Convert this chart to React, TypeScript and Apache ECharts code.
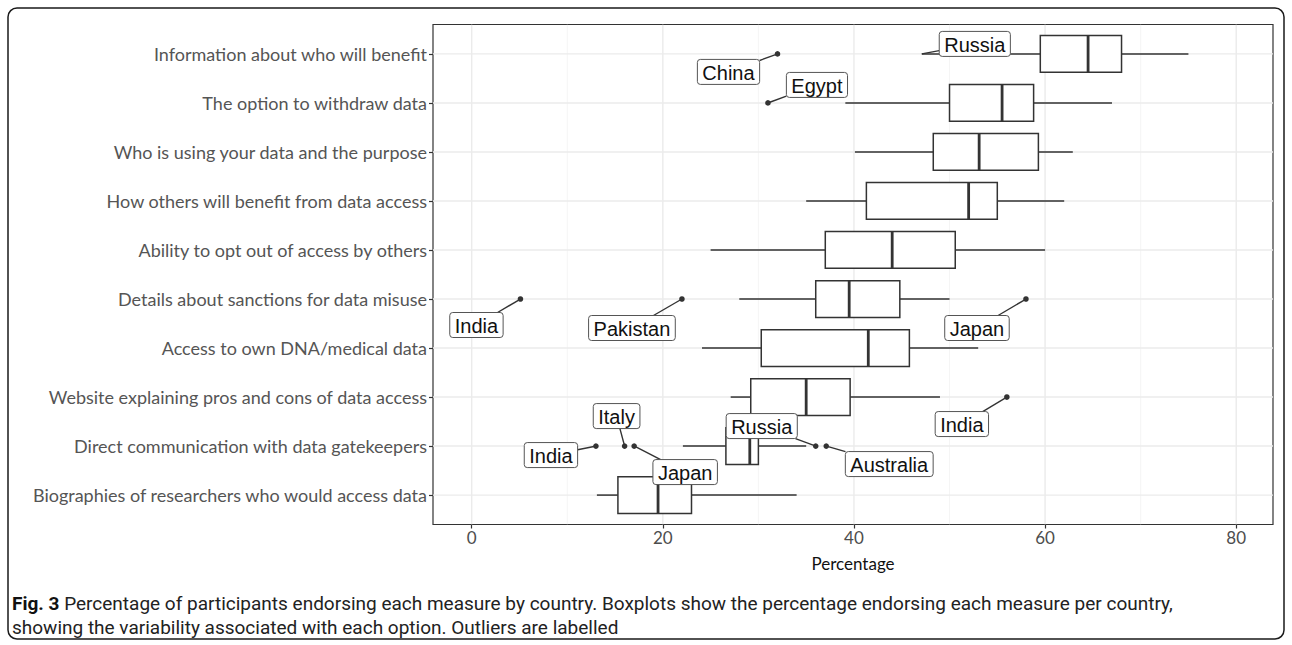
import React, { useEffect, useRef } from "react";
import * as echarts from "echarts";

const categories = [
  "Information about who will benefit",
  "The option to withdraw data",
  "Who is using your data and the purpose",
  "How others will benefit from data access",
  "Ability to opt out of access by others",
  "Details about sanctions for data misuse",
  "Access to own DNA/medical data",
  "Website explaining pros and cons of data access",
  "Direct communication with data gatekeepers",
  "Biographies of researchers who would access data",
];
const whiskerLow = [47.1, 39.1, 40.1, 35.0, 25.0, 28.0, 24.1, 27.1, 22.1, 13.1];
const q1 = [59.5, 50.0, 48.3, 41.3, 37.0, 36.0, 30.3, 29.2, 26.6, 15.3];
const median = [64.5, 55.5, 53.1, 52.0, 44.0, 39.5, 41.5, 35.0, 29.1, 19.5];
const q3 = [68.0, 58.8, 59.3, 55.0, 50.6, 44.8, 45.8, 39.6, 30.0, 23.0];
const whiskerHigh = [75.0, 67.0, 62.9, 62.0, 60.0, 50.0, 53.0, 49.0, 35.0, 34.0];

const outlierCountries = ["Russia", "China", "Egypt", "India", "Pakistan", "Japan", "India", "India", "Italy", "Japan", "Russia", "Australia"];
const outlierRows = [0, 0, 1, 5, 5, 5, 7, 8, 8, 8, 8, 8];
const outlierValues = [47.1, 32.0, 31.0, 5.1, 22.0, 58.0, 56.0, 13.0, 16.0, 17.0, 36.0, 37.1];
const outlierHasDot = [false, true, true, true, true, true, true, true, true, true, true, true];

// label offsets (pixels) from each labelled point, as placed by the repel layout
const labelDx = [53, -49, 49, -44, -50, -49, -45, -45, -8, 51, -54, 63];
const labelDy = [-10, 18, -18, 26, 29, 29, 27, 9, -30, 26, -20, 18];

const xMajor = [0, 20, 40, 60, 80];
const xMinor = [10, 30, 50, 70];

const caption1 = "{b|Fig. 3} Percentage of participants endorsing each measure by country. Boxplots show the percentage endorsing each measure per country,";
const caption2 = "showing the variability associated with each option. Outliers are labelled";

const LABEL_FONT = '20px "Liberation Sans", Arial, sans-serif';

export default function App() {
  const ref = useRef<HTMLDivElement>(null);
  useEffect(() => {
    if (!ref.current) return;
    const chart = echarts.init(ref.current, undefined, { renderer: "svg" });
    const canvas = document.createElement("canvas");
    const ctx = canvas.getContext("2d")!;
    ctx.font = LABEL_FONT;

    const gridData: number[][] = [];
    xMajor.forEach((v) => gridData.push([0, v]));
    xMinor.forEach((v) => gridData.push([1, v]));
    categories.forEach((_, i) => gridData.push([2, i]));

    const boxData = categories.map((_, i) => [i, whiskerLow[i], q1[i], median[i], q3[i], whiskerHigh[i]]);
    const outData = outlierValues.map((v, i) => [v, outlierRows[i], i]);

    const option: any = {
      animation: false,
      grid: {
        left: 433,
        right: 19,
        top: 24.5,
        bottom: 120.5,
        show: true,
        borderColor: "#333333",
        borderWidth: 1.2,
        backgroundColor: "#ffffff",
      },
      xAxis: {
        type: "value",
        min: -4.05,
        max: 83.85,
        axisLine: { show: false, onZero: false },
        splitLine: { show: false },
        axisTick: { show: true, customValues: xMajor, length: 4, lineStyle: { color: "#333", width: 1.2 } },
        axisLabel: {
          customValues: xMajor,
          margin: 4,
          fontFamily: "Lato",
          fontSize: 17,
          color: "#4d4d4d",
        },
        name: "Percentage",
        nameLocation: "middle",
        nameGap: 30,
        nameTextStyle: { fontFamily: "Lato", fontSize: 17, color: "#111" },
      },
      yAxis: {
        type: "value",
        min: -0.6,
        max: 9.6,
        inverse: true,
        axisLine: { show: false, onZero: false },
        splitLine: { show: false },
        axisTick: { show: true, customValues: categories.map((_, i) => i), length: 4, lineStyle: { color: "#333", width: 1.2 } },
        axisLabel: {
          customValues: categories.map((_, i) => i),
          formatter: (v: number) => categories[Math.round(v)] ?? "",
          margin: 6,
          fontFamily: "Lato",
          fontSize: 18,
          color: "#555555",
        },
      },
      series: [
        {
          type: "custom",
          silent: true,
          clip: true,
          z: 1,
          encode: { x: 1, y: 1 },
          data: gridData,
          renderItem: (params: any, api: any) => {
            const cs = params.coordSys;
            const kind = api.value(0);
            const v = api.value(1);
            if (kind === 2) {
              const y = api.coord([0, v])[1];
              return {
                type: "line",
                shape: { x1: cs.x, y1: y, x2: cs.x + cs.width, y2: y },
                style: { stroke: "#ebebeb", lineWidth: 1.4 },
              };
            }
            const x = api.coord([v, 0])[0];
            return {
              type: "line",
              shape: { x1: x, y1: cs.y, x2: x, y2: cs.y + cs.height },
              style: { stroke: kind === 0 ? "#ebebeb" : "#f3f3f3", lineWidth: kind === 0 ? 1.4 : 0.8 },
            };
          },
        },
        {
          type: "custom",
          silent: true,
          z: 2,
          encode: { x: [1, 2, 3, 4, 5], y: 0 },
          data: boxData,
          renderItem: (params: any, api: any) => {
            const r = api.value(0);
            const lo = api.coord([api.value(1), r]);
            const a = api.coord([api.value(2), r]);
            const m = api.coord([api.value(3), r]);
            const b = api.coord([api.value(4), r]);
            const hi = api.coord([api.value(5), r]);
            const h = api.size([0, 1])[1] * 0.75;
            const y = lo[1];
            const stroke = "#333333";
            return {
              type: "group",
              children: [
                { type: "line", shape: { x1: lo[0], y1: y, x2: a[0], y2: y }, style: { stroke, lineWidth: 1.5 } },
                { type: "line", shape: { x1: b[0], y1: y, x2: hi[0], y2: y }, style: { stroke, lineWidth: 1.5 } },
                {
                  type: "rect",
                  shape: { x: a[0], y: y - h / 2, width: b[0] - a[0], height: h },
                  style: { fill: "#ffffff", stroke, lineWidth: 1.5 },
                },
                { type: "line", shape: { x1: m[0], y1: y - h / 2, x2: m[0], y2: y + h / 2 }, style: { stroke, lineWidth: 2.8 } },
              ],
            };
          },
        },
        {
          type: "custom",
          silent: true,
          clip: false,
          z: 3,
          encode: { x: 0, y: 1 },
          data: outData,
          renderItem: (params: any, api: any) => {
            const idx = api.value(2);
            const p = api.coord([api.value(0), api.value(1)]);
            const name = outlierCountries[idx];
            const cx = p[0] + labelDx[idx];
            const cy = p[1] + labelDy[idx];
            const tw = ctx.measureText(name).width;
            const W = tw + 10;
            const H = 25;
            const hw = W / 2;
            const hh = H / 2;
            const ddx = p[0] - cx;
            const ddy = p[1] - cy;
            const s = Math.min(ddx !== 0 ? hw / Math.abs(ddx) : Infinity, ddy !== 0 ? hh / Math.abs(ddy) : Infinity);
            const children: any[] = [];
            if (s < 1) {
              const ex = cx + ddx * s;
              const ey = cy + ddy * s;
              const len = Math.hypot(p[0] - ex, p[1] - ey);
              const gap = outlierHasDot[idx] ? Math.min(2, len) : 0;
              const sx = p[0] + ((ex - p[0]) / len) * gap;
              const sy = p[1] + ((ey - p[1]) / len) * gap;
              children.push({
                type: "line",
                shape: { x1: sx, y1: sy, x2: ex, y2: ey },
                style: { stroke: "#333333", lineWidth: 1.4 },
              });
            }
            if (outlierHasDot[idx]) {
              children.push({ type: "circle", shape: { cx: p[0], cy: p[1], r: 2.8 }, style: { fill: "#333333" } });
            }
            children.push({
              type: "rect",
              shape: { x: cx - hw, y: cy - hh, width: W, height: H, r: 3 },
              style: { fill: "#ffffff", stroke: "#555555", lineWidth: 1 },
            });
            children.push({
              type: "text",
              style: {
                text: name,
                x: cx,
                y: cy + 1,
                font: LABEL_FONT,
                fill: "#111111",
                align: "center",
                verticalAlign: "middle",
              },
            });
            return { type: "group", children };
          },
        },
      ],
      graphic: [
        {
          type: "rect",
          silent: true,
          z: -10,
          shape: { x: 8, y: 8, width: 1276, height: 631, r: 9 },
          style: { fill: "none", stroke: "#1a1a1a", lineWidth: 1.5 },
        },
        {
          type: "text",
          silent: true,
          x: 12,
          y: 603,
          style: {
            text: caption1,
            fontFamily: "Roboto",
            fontSize: 19,
            fill: "#222222",
            verticalAlign: "middle",
            rich: { b: { fontFamily: "Roboto", fontSize: 19, fontWeight: "bold", fill: "#111111" } },
          },
        },
        {
          type: "text",
          silent: true,
          x: 12,
          y: 627,
          style: {
            text: caption2,
            fontFamily: "Roboto",
            fontSize: 19,
            fill: "#222222",
            verticalAlign: "middle",
          },
        },
      ],
    };
    chart.setOption(option);
    return () => chart.dispose();
  }, []);
  return (
    <div
      ref={ref}
      style={{ position: "fixed", left: 0, top: 0, width: "1292px", height: "645px", background: "#fff" }}
    />
  );
}
